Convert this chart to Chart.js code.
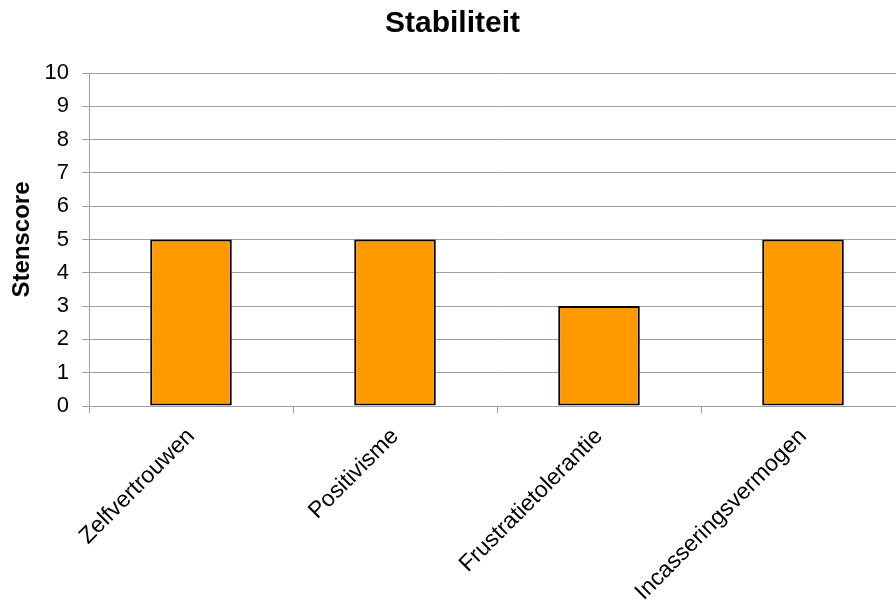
<!DOCTYPE html>
<html>
<head>
<meta charset="utf-8">
<script src="https://cdn.jsdelivr.net/npm/chart.js@4/dist/chart.umd.min.js"></script>
<style>
  html, body { margin: 0; padding: 0; background: #fff; overflow: hidden; }
</style>
</head>
<body>
<canvas id="stabChart" width="910" height="605"></canvas>
<script>
const categories = ['Zelfvertrouwen', 'Positivisme', 'Frustratietolerantie', 'Incasseringsvermogen'];
const stenscores = [5, 5, 3, 5];
const yTicks = [0, 1, 2, 3, 4, 5, 6, 7, 8, 9, 10];

const gridGrey = '#a0a0a0';
const fontFamily = '"Liberation Sans", Arial, sans-serif';

const ctx = document.getElementById('stabChart').getContext('2d');
const chart = new Chart(ctx, {
    type: 'bar',
    data: {
        labels: categories,
        datasets: [{
            label: 'Stenscore',
            data: stenscores,
            backgroundColor: '#FF9900',
            borderColor: '#000000',
            borderWidth: 2,
            borderSkipped: false,
            barPercentage: 0.8,
            categoryPercentage: 0.5,
        }]
    },
    options: {
        responsive: false,
        animation: false,
        layout: { padding: { left: 0, right: 5, top: 0, bottom: 0 } },
        plugins: {
            legend: { display: false },
            tooltip: { enabled: false },
            title: {
                display: true,
                text: 'Stabiliteit',
                color: '#000',
                font: { family: fontFamily, size: 30, weight: 'bold' },
                padding: { top: 6, bottom: 31 },
            },
        },
        scales: {
            x: {
                grid: {
                    display: true,
                    drawOnChartArea: false,
                    drawTicks: true,
                    tickLength: 7,
                    color: gridGrey,
                    offset: true,
                },
                border: { color: gridGrey, width: 1 },
                ticks: {
                    color: '#000',
                    font: { family: fontFamily, size: 23 },
                    maxRotation: 45,
                    minRotation: 45,
                    padding: 10,
                },
                afterFit: function(scale) { scale.height = 199; },
            },
            y: {
                min: 0,
                max: 10,
                afterBuildTicks: function(scale) {
                    scale.ticks = yTicks.map(v => ({ value: v }));
                },
                grid: {
                    color: gridGrey,
                    tickLength: 7,
                    lineWidth: 1,
                },
                border: { color: gridGrey, width: 1 },
                ticks: {
                    color: '#000',
                    font: { family: fontFamily, size: 22 },
                    padding: 13,
                },
                title: {
                    display: true,
                    text: 'Stenscore',
                    color: '#000',
                    font: { family: fontFamily, size: 24, weight: 'bold' },
                    padding: { top: 8, bottom: 0 },
                },
                afterFit: function(scale) { scale.width = 89; },
            },
        },
    },
});
</script>
</body>
</html>
